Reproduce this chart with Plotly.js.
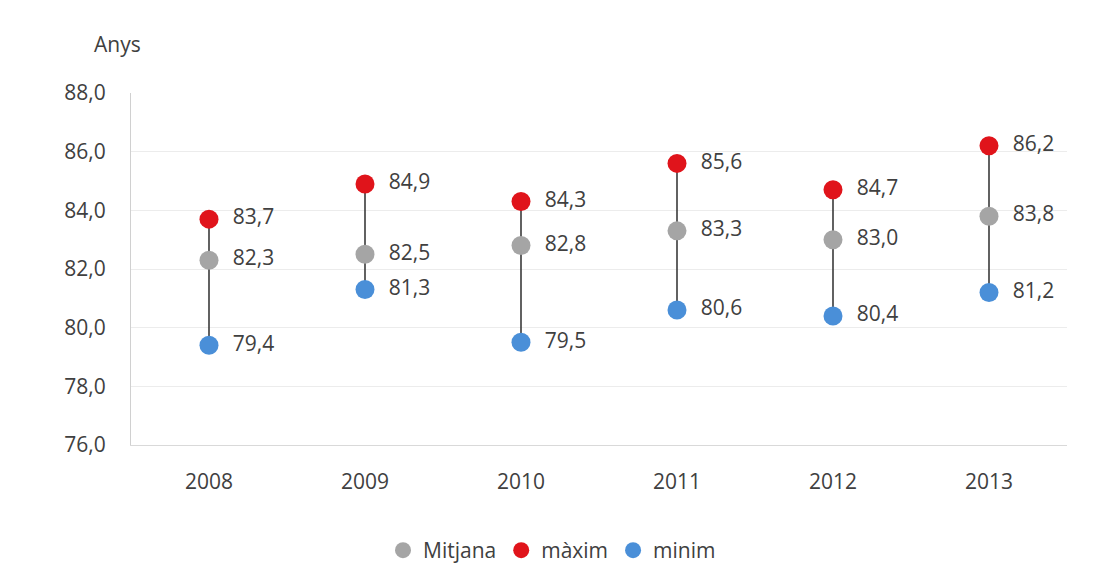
<!DOCTYPE html>
<html>
<head>
<meta charset="utf-8">
<script src="https://cdn.plot.ly/plotly-3.0.1.min.js"></script>
<style>html,body{margin:0;padding:0;background:#fff;}#chart{width:1104px;height:571px;}</style>
</head>
<body>
<div id="chart"></div>
<script>
const years = ['2008','2009','2010','2011','2012','2013'];
const mitjana = [82.3, 82.5, 82.8, 83.3, 83.0, 83.8];
const maxim = [83.7, 84.9, 84.3, 85.6, 84.7, 86.2];
const minim = [79.4, 81.3, 79.5, 80.6, 80.4, 81.2];
const yTicks = [76, 78, 80, 82, 84, 86, 88];

const fmt = v => v.toFixed(1).replace('.', ',');
const FONT = 'Open Sans, Noto Sans, sans-serif';
const TXT = '#404040';
const FS = 21;

// vertical connectors min -> max
const lx = [], ly = [];
years.forEach((y, i) => { lx.push(y, y, null); ly.push(minim[i], maxim[i], null); });

const labelOpts = {
  mode: 'markers+text',
  textposition: 'middle right',
  textfont: {family: FONT, size: FS, color: TXT},
  cliponaxis: false
};

const traces = [
  {x: lx, y: ly, mode: 'lines', line: {color: '#3a3a3a', width: 1.6}, showlegend: false, hoverinfo: 'skip'},
  Object.assign({x: years, y: mitjana, name: 'Mitjana', text: mitjana.map(v => '  ' + fmt(v)),
    marker: {color: '#a5a5a5', size: 19}}, labelOpts),
  Object.assign({x: years, y: maxim, name: 'màxim', text: maxim.map(v => '  ' + fmt(v)),
    marker: {color: '#e0141b', size: 19}}, labelOpts),
  Object.assign({x: years, y: minim, name: 'minim', text: minim.map(v => '  ' + fmt(v)),
    marker: {color: '#4a8fd8', size: 19}}, labelOpts)
];

const layout = {
  width: 1104, height: 571,
  margin: {l: 131, r: 37, t: 93, b: 126},
  paper_bgcolor: '#fff', plot_bgcolor: '#fff',
  font: {family: FONT, color: TXT, size: FS},
  xaxis: {
    type: 'category', range: [-0.5, 5.5], showgrid: false, zeroline: false,
    showline: true, linecolor: '#d9d9d9', linewidth: 1,
    ticks: '', tickfont: {family: FONT, size: FS, color: TXT}, ticklabelstandoff: 18
  },
  yaxis: {
    range: [76, 88], tickvals: yTicks, ticktext: yTicks.map(fmt),
    showgrid: true, gridcolor: '#ececec', gridwidth: 1, zeroline: false,
    showline: true, linecolor: '#d0d0d0', linewidth: 1,
    ticks: '', tickfont: {family: FONT, size: FS, color: TXT}, ticklabelstandoff: 20
  },
  legend: {
    orientation: 'h', x: 0.5, xanchor: 'center', xref: 'container',
    y: 0.0, yanchor: 'bottom', yref: 'container',
    font: {family: FONT, size: FS, color: TXT}, itemwidth: 30, tracegroupgap: 0
  },
  annotations: [{
    text: 'Anys', xref: 'paper', yref: 'paper', x: -0.0417, y: 1.14,
    xanchor: 'left', yanchor: 'middle', showarrow: false,
    font: {family: FONT, size: FS, color: TXT}
  }],
  showlegend: true
};

Plotly.newPlot('chart', traces, layout, {displayModeBar: false, staticPlot: true});
</script>
</body>
</html>
